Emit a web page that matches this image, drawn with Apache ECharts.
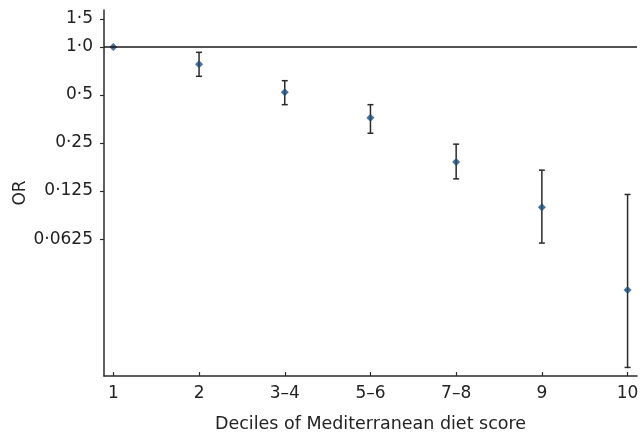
<!DOCTYPE html>
<html>
<head>
<meta charset="utf-8">
<script src="https://cdn.jsdelivr.net/npm/echarts@6/dist/echarts.min.js"></script>
<style>
  html, body { margin: 0; padding: 0; background: #fff; }
  #chart { width: 644px; height: 433px; }
</style>
</head>
<body>
<div id="chart"></div>
<script>
// deciles of the score
const categories = ['1', '2', '3–4', '5–6', '7–8', '9', '10'];
// odds ratios and 95% CI
const orValues = [1.0, 0.78, 0.52, 0.36, 0.19, 0.099, 0.030];
const ciLower = [null, 0.655, 0.435, 0.288, 0.149, 0.059, 0.0098];
const ciUpper = [null, 0.926, 0.615, 0.435, 0.246, 0.169, 0.119];
// y tick marks
const yTickValues = [0.0625, 0.125, 0.25, 0.5, 1.0, 1.5];
const yTickLabels = ['0·0625', '0·125', '0·25', '0·5', '1·0', '1·5'];

const font = 'DejaVu Sans';
const axisColor = '#2b2b2b';

// the y axis is log base 2, so plot log2 of the ratios
const lg = v => Math.log2(v);

const points = orValues.map((v, i) => [i, lg(v)]);
const bars = [];
categories.forEach((c, i) => {
    if (ciLower[i] != null) bars.push([i, lg(ciLower[i]), lg(ciUpper[i])]);
});

const yTicks = yTickValues.map(lg);

const option = {
    animation: false,
    grid: {
        left: 104,
        right: 7,
        top: 10,
        bottom: 57,
        outerBoundsMode: 'none'
    },
    xAxis: {
        type: 'value',
        min: -0.109,
        max: 6.11,
        name: 'Deciles of Mediterranean diet score',
        nameLocation: 'middle',
        nameGap: 39,
        nameMoveOverlap: false,
        nameTextStyle: { fontFamily: font, fontSize: 17.5, color: '#222' },
        splitLine: { show: false },
        axisLine: { onZero: false, lineStyle: { color: axisColor, width: 1.5 } },
        axisTick: {
            inside: true,
            length: 4,
            customValues: categories.map((c, i) => i),
            lineStyle: { color: axisColor, width: 1.2 }
        },
        axisLabel: {
            customValues: categories.map((c, i) => i),
            formatter: v => categories[Math.round(v)],
            fontFamily: font,
            fontSize: 17,
            color: '#222',
            margin: 9
        }
    },
    yAxis: {
        type: 'value',
        min: lg(0.00866),
        max: lg(1.706),
        name: 'OR',
        nameLocation: 'middle',
        nameGap: 75,
        nameMoveOverlap: false,
        nameTextStyle: { fontFamily: font, fontSize: 17, color: '#222' },
        splitLine: { show: false },
        axisLine: { show: true, onZero: false, lineStyle: { color: axisColor, width: 1.5 } },
        axisTick: {
            show: true,
            length: 4,
            customValues: yTicks,
            lineStyle: { color: axisColor, width: 1.2 }
        },
        axisLabel: {
            customValues: yTicks,
            formatter: v => {
                let k = 0;
                yTicks.forEach((t, j) => { if (Math.abs(t - v) < Math.abs(yTicks[k] - v)) k = j; });
                return yTickLabels[k];
            },
            fontFamily: font,
            fontSize: 17,
            color: '#222',
            margin: 11
        }
    },
    series: [
        {
            type: 'custom',
            data: bars,
            z: 2,
            renderItem: (params, api) => {
                const x = api.value(0);
                const lo = api.coord([x, api.value(1)]);
                const hi = api.coord([x, api.value(2)]);
                const w = 3;
                const st = { stroke: '#2a2a2a', lineWidth: 1.5 };
                return {
                    type: 'group',
                    children: [
                        { type: 'line', shape: { x1: lo[0], y1: lo[1], x2: hi[0], y2: hi[1] }, style: st },
                        { type: 'line', shape: { x1: lo[0] - w, y1: lo[1], x2: lo[0] + w, y2: lo[1] }, style: st },
                        { type: 'line', shape: { x1: hi[0] - w, y1: hi[1], x2: hi[0] + w, y2: hi[1] }, style: st }
                    ]
                };
            }
        },
        {
            type: 'scatter',
            data: points,
            symbol: 'diamond',
            symbolSize: 8,
            z: 3,
            itemStyle: { color: '#1c4d7c' },
            markLine: {
                silent: true,
                symbol: 'none',
                label: { show: false },
                lineStyle: { color: '#1a1a1a', width: 1.5, type: 'solid' },
                data: [{ yAxis: lg(1.0) }]
            }
        }
    ]
};

const chart = echarts.init(document.getElementById('chart'));
chart.setOption(option);
</script>
</body>
</html>
